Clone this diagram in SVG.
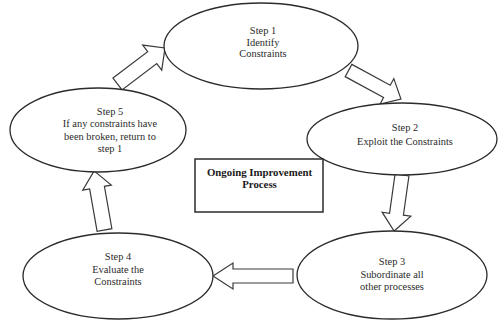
<svg xmlns="http://www.w3.org/2000/svg" width="498" height="322" viewBox="0 0 498 322">
<style>
.node ellipse{fill:#fff;stroke:#2b2b2b;stroke-width:1.3}
.box{fill:#fff;stroke:#2b2b2b;stroke-width:1.5}
.arr{fill:#fff;stroke:#3a3a3a;stroke-width:1.2;stroke-linejoin:miter}
text{font-family:"Liberation Serif","Times New Roman",serif;font-size:10.4px;fill:#2b2b2b;text-anchor:middle}
.b{font-weight:bold;font-size:10.8px;fill:#1a1a1a}
</style>
<rect width="498" height="322" fill="#fff"/>
<g id="connectors">
<path class="arr" transform="translate(117.5,84) rotate(-37.2)" d="M0,-7.5 L43.6,-7.5 L43.6,-15.7 L59.6,0 L43.6,15.7 L43.6,7.5 L0,7.5 Z"/>
<path class="arr" transform="translate(348.5,70.5) rotate(28.5)" d="M0,-7 L43.7,-7 L43.7,-14.5 L59.7,0 L43.7,14.5 L43.7,7 L0,7 Z"/>
<path class="arr" transform="translate(402,175) rotate(98)" d="M0,-7 L39.6,-7 L39.6,-14.5 L56.6,0 L39.6,14.5 L39.6,7 L0,7 Z"/>
<path class="arr" transform="translate(293,276) rotate(180)" d="M0,-7 L60,-7 L60,-13 L80,0 L60,13 L60,7 L0,7 Z"/>
<path class="arr" transform="translate(104.5,230) rotate(-100)" d="M0,-7.5 L43,-7.5 L43,-14.5 L60,0 L43,14.5 L43,7.5 L0,7.5 Z"/>
</g>
<g id="step1" class="node">
<ellipse cx="261" cy="46" rx="97" ry="43"/>
<text x="263" y="34">Step 1</text>
<text x="263" y="45.5">Identify</text>
<text x="263" y="57">Constraints</text>
</g>
<g id="step2" class="node">
<ellipse cx="402" cy="139" rx="95" ry="36"/>
<text x="405" y="131">Step 2</text>
<text x="405" y="145">Exploit the Constraints</text>
</g>
<g id="step3" class="node">
<ellipse cx="392" cy="275" rx="95" ry="44"/>
<text x="392" y="265">Step 3</text>
<text x="392" y="277.5">Subordinate all</text>
<text x="392" y="290">other processes</text>
</g>
<g id="step4" class="node">
<ellipse cx="118" cy="276" rx="95" ry="43"/>
<text x="118" y="260">Step 4</text>
<text x="118" y="273">Evaluate the</text>
<text x="118" y="285">Constraints</text>
</g>
<g id="step5" class="node">
<ellipse cx="98" cy="130" rx="88" ry="42"/>
<text x="110" y="115">Step 5</text>
<text x="110" y="127">If any constraints have</text>
<text x="110" y="139.5">been broken, return to</text>
<text x="110" y="152">step 1</text>
</g>
<g id="center">
<rect class="box" x="195" y="159" width="128" height="53"/>
<text class="b" x="259.5" y="176">Ongoing Improvement</text>
<text class="b" x="259.5" y="188">Process</text>
</g>
</svg>
